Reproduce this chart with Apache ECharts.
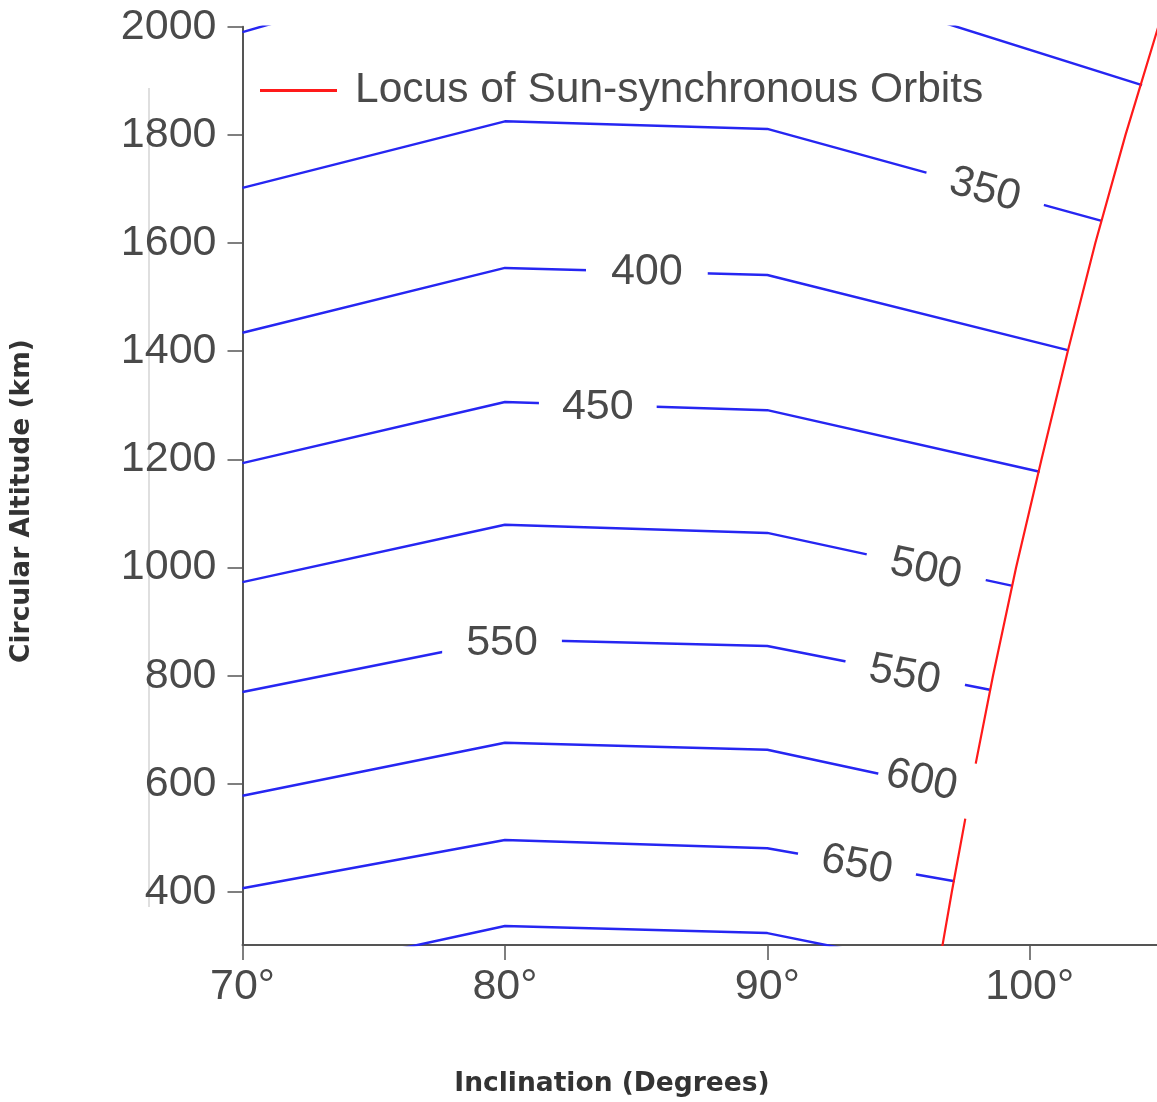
<!DOCTYPE html>
<html><head><meta charset="utf-8">
<script src="https://cdn.jsdelivr.net/npm/echarts@6/dist/echarts.min.js"></script>
<style>html,body{margin:0;padding:0;background:#fff}#c{width:1157px;height:1102px}</style>
</head><body><div id="c"></div>
<script>
// ---- data ----
const inclinationTicks = [70, 80, 90, 100];
const altitudeTicks = [400, 600, 800, 1000, 1200, 1400, 1600, 1800, 2000];

// constant-value contour lines, vertices as [inclination (deg), altitude (km)]
const contourTop    = [[70, 1990], [80, 2130], [90, 2110], [104.28, 1892]];
const contour350    = [[70, 1702], [80, 1825], [90, 1811], [102.74, 1641]];
const contour400    = [[70, 1434], [80, 1554], [90, 1541], [101.45, 1402]];
const contour450    = [[70, 1193], [80, 1306], [90, 1291], [100.38, 1177]];
const contour500    = [[70, 973],  [80, 1079], [90, 1064], [99.35, 966]];
const contour550    = [[70, 770],  [80, 867],  [90, 855],  [98.48, 774]];
const contour600    = [[70, 578],  [80, 676],  [90, 663],  [98.06, 579]];
const contour650    = [[70, 407],  [80, 496],  [90, 481],  [97.14, 420]];
const contourBottom = [[70, 232],  [80, 337],  [90, 324],  [96.72, 258]];

// locus of sun-synchronous orbits
const ssoInclination = [96.67, 97.03, 97.79, 98.6, 99.48, 100.45, 101.45, 102.5, 103.65, 104.9];
const ssoAltitude    = [300, 400, 600, 800, 1000, 1200, 1400, 1600, 1800, 2000];

// contour labels
const contourLabelText        = ['350', '400', '450', '500', '550', '550', '600', '650'];
const contourLabelInclination = [98.29, 85.41, 83.54, 96.04, 79.89, 95.24, 96.44, 93.41];
const contourLabelAltitude    = [1698, 1546, 1297, 997, 860, 801, 600, 450];

const legendName = 'Locus of Sun-synchronous Orbits';

// ---- styles ----
const FONT = 'Liberation Sans, Arial, sans-serif';
const TXT = '#4a4a4a';
const AX = '#555555';
const BLUE = '#2626f2';
const RED = '#ff1a1a';
const labelRotate = [-15, -0.5, 0, -12, 0, -11, -12, -10];
const labelPadding = [[3,25],[3,25],[3,23],[3,25],[3,24],[3,25],[6,38,7,8],[3,24]];

const contours = [contourTop, contour350, contour400, contour450, contour500, contour550, contour600, contour650, contourBottom];

const series = contours.map((c, i) => ({
  type: 'line', name: 'contour' + i, data: c, symbol: 'none', silent: true,
  lineStyle: { color: BLUE, width: 2.5 }, z: 2, clip: true
}));

series.push({
  type: 'line', name: legendName, symbol: 'none', silent: true, clip: true,
  data: ssoInclination.map((x, i) => [x, ssoAltitude[i]]),
  lineStyle: { color: RED, width: 2.2 }, itemStyle: { color: RED }, z: 3
});

series.push({
  type: 'scatter', name: 'labels', symbolSize: 0, silent: true, z: 10,
  itemStyle: { color: '#ffffff', opacity: 1 },
  data: contourLabelText.map((t, i) => ({
    value: [contourLabelInclination[i], contourLabelAltitude[i]],
    label: { rotate: labelRotate[i], padding: labelPadding[i], formatter: t }
  })),
  label: {
    show: true, position: 'inside', fontSize: 43, color: TXT, fontFamily: FONT,
    backgroundColor: '#ffffff', opacity: 1
  }
});

const chart = echarts.init(document.getElementById('c'));
chart.setOption({
  animation: false,
  backgroundColor: '#ffffff',
  grid: { left: 242.5, right: 0, top: 26.7, bottom: 157 },
  legend: {
    left: 255, top: 64, icon: 'rect', itemWidth: 77, itemHeight: 3,
    data: [legendName], selectedMode: false,
    textStyle: { fontSize: 42.5, color: TXT, fontFamily: FONT, padding: [0, 0, 0, 13] }
  },
  xAxis: {
    type: 'value', min: 70, max: 104.85,
    splitLine: { show: false },
    axisLine: { show: true, onZero: false, lineStyle: { color: AX, width: 2 } },
    axisTick: { show: true, length: 15, customValues: inclinationTicks, lineStyle: { color: AX, width: 1.5 } },
    axisLabel: { customValues: inclinationTicks, formatter: '{value}°', fontSize: 43, color: TXT, fontFamily: FONT, margin: 21 }
  },
  yAxis: {
    type: 'value', min: 302, max: 2000,
    splitLine: { show: false },
    axisLine: { show: true, onZero: false, lineStyle: { color: AX, width: 2 } },
    axisTick: { show: true, length: 15, customValues: altitudeTicks, lineStyle: { color: AX, width: 1.5 } },
    axisLabel: { customValues: altitudeTicks, formatter: v => String(v), fontSize: 43, color: TXT, fontFamily: FONT, margin: 26 }
  },
  graphic: [
    { type: 'line', shape: { x1: 149, y1: 88, x2: 149, y2: 907 }, style: { stroke: '#d4d4d4', lineWidth: 1.5 }, silent: true },
    { type: 'text', x: 22, y: 501, rotation: Math.PI / 2,
      style: { text: 'Circular Altitude (km)', font: 'bold 26.5px "DejaVu Sans"', fill: '#333333', align: 'center', verticalAlign: 'middle' } },
    { type: 'text', x: 612, y: 1084,
      style: { text: 'Inclination (Degrees)', font: 'bold 26.5px "DejaVu Sans"', fill: '#333333', align: 'center', verticalAlign: 'middle' } }
  ],
  series: series
});
</script>
</body></html>
